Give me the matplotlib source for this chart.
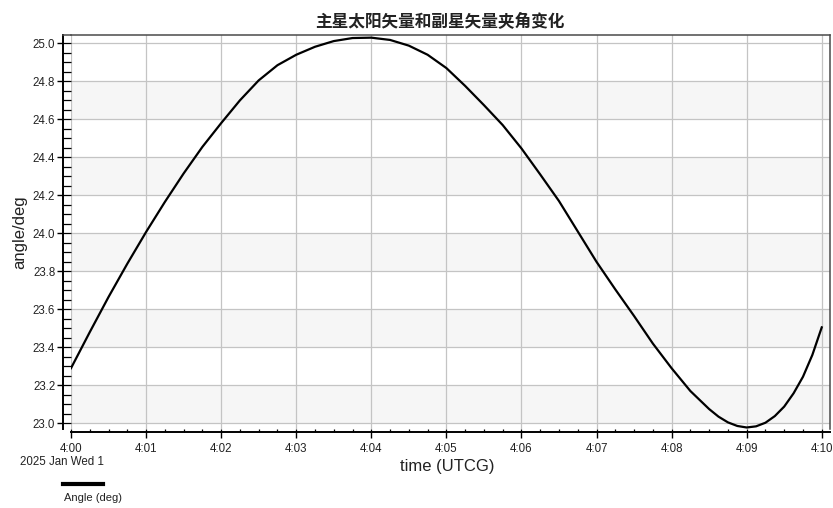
import matplotlib
matplotlib.use("Agg")
import matplotlib.pyplot as plt
from matplotlib.lines import Line2D
from matplotlib.ticker import MultipleLocator, FuncFormatter

plt.rcParams['font.family'] = ['Liberation Sans', 'DejaVu Sans']

# minutes after 4:00 UTCG, 2025 Jan 1
minutes = [0, 0.25, 0.5, 0.75, 1, 1.25, 1.5, 1.75, 2, 2.25, 2.5, 2.75, 3, 3.25, 3.5, 3.75,
           4, 4.25, 4.5, 4.75, 5, 5.25, 5.5, 5.75, 6, 6.25, 6.5, 6.75, 7, 7.25, 7.5, 7.75,
           8, 8.25, 8.5, 8.625, 8.75, 8.875, 9, 9.125, 9.25, 9.375, 9.5, 9.625, 9.75, 9.875, 10]
angle = [23.29, 23.48, 23.665, 23.84, 24.007, 24.165, 24.315, 24.455, 24.58, 24.70, 24.805, 24.885,
         24.94, 24.982, 25.012, 25.028, 25.03, 25.018, 24.988, 24.94, 24.87, 24.776, 24.675, 24.57,
         24.447, 24.31, 24.17, 24.01, 23.85, 23.705, 23.565, 23.42, 23.29, 23.17, 23.075, 23.035,
         23.005, 22.986, 22.978, 22.984, 23.003, 23.038, 23.088, 23.158, 23.245, 23.36, 23.505]

yticks = [23.0, 23.2, 23.4, 23.6, 23.8, 24.0, 24.2, 24.4, 24.6, 24.8, 25.0]
xticks = list(range(0, 11))
title = "主星太阳矢量和副星矢量夹角变化"

fig = plt.figure(figsize=(8.33, 5.08), dpi=100)
ax = fig.add_axes([0.08523, 0.15551, 0.91117, 0.77559])

# alternating shaded bands between y ticks
for i in range(len(yticks) - 1):
    if i % 2 == 0:
        ax.axhspan(yticks[i], yticks[i + 1], color='#f6f6f6', zorder=0, lw=0)

ax.plot(minutes, angle, color='black', lw=1.6, zorder=3, solid_joinstyle='round')

ax.set_xlim(0, 10.11)
ax.set_ylim(22.97, 25.044)
ax.set_xticks(xticks)
ax.set_yticks(yticks)
ax.xaxis.set_minor_locator(MultipleLocator(0.25))
ax.yaxis.set_minor_locator(MultipleLocator(0.05))
ax.xaxis.remove_overlapping_locs = False
ax.yaxis.remove_overlapping_locs = False
ax.xaxis.set_major_formatter(FuncFormatter(lambda v, p: "4:%02d" % int(round(v))))
ax.yaxis.set_major_formatter(FuncFormatter(lambda v, p: "%.1f" % v))

ax.grid(True, which='major', color='#c4c4c4', lw=0.9, zorder=1)

# ruler style axes: spines pushed out, minor ticks inside, major ticks outside
ax.spines['left'].set_position(('outward', 5.8))
ax.spines['bottom'].set_position(('outward', 2.2))
for side in ['left', 'bottom']:
    ax.spines[side].set_linewidth(1.4)
    ax.spines[side].set_color('black')
for side in ['top', 'right']:
    ax.spines[side].set_linewidth(1.1)
    ax.spines[side].set_color('#4a4a4a')
# top frame continues over the ruler strip
fig.add_artist(Line2D([0.0756, 0.0853], [0.9311, 0.9311], color='#4a4a4a', lw=1.1))

ax.tick_params(axis='y', which='major', direction='out', length=4.5, width=1, labelsize=8.3,
               labelcolor='#222222', pad=1)
ax.tick_params(axis='y', which='minor', direction='in', length=5.8, width=0.9)
ax.tick_params(axis='x', which='major', direction='out', length=4, width=1, labelsize=8.3,
               labelcolor='#222222', pad=4)
ax.tick_params(axis='x', which='minor', direction='in', length=2.4, width=0.9)

ax.set_ylabel('angle/deg', fontsize=12, color='#222222', labelpad=4)
fig.text(0.537, 0.081, 'time (UTCG)', fontsize=12, color='#222222', ha='center', va='center')
fig.text(0.024, 0.091, '2025 Jan Wed 1', fontsize=8.3, color='#222222', ha='left', va='center')
fig.text(0.528, 0.959, title, fontsize=12, fontweight='bold', fontstyle='italic',
         family=['Noto Sans CJK SC', 'DejaVu Sans'], color='#222222', ha='center', va='center')

# legend: sample line with label underneath
fig.add_artist(Line2D([0.076, 0.124], [0.047, 0.047], color='black', lw=3))
fig.text(0.077, 0.019, 'Angle (deg)', fontsize=8, color='#222222', ha='left', va='center')

fig.savefig('out.png', dpi=100)
